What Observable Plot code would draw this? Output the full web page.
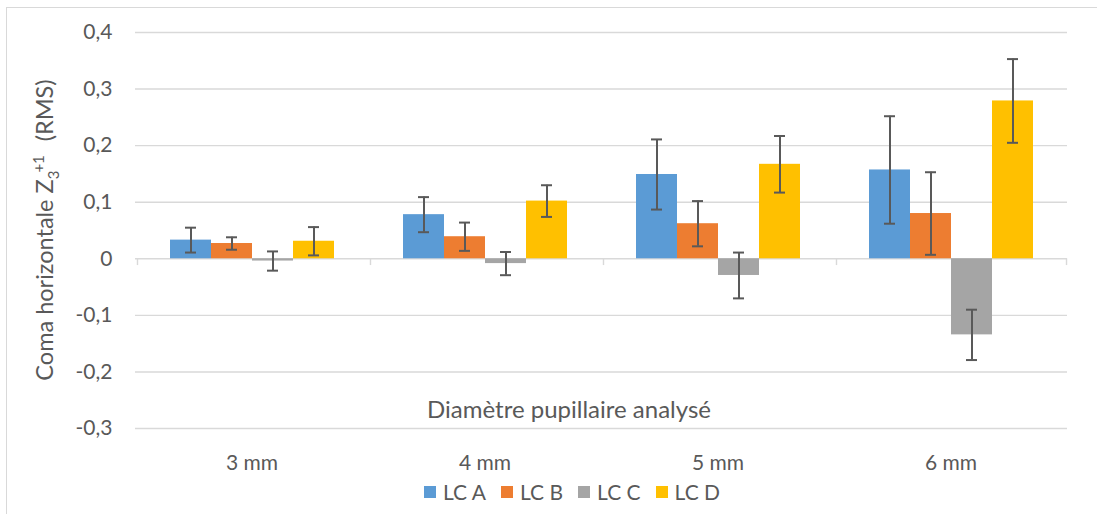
<!DOCTYPE html>
<html>
<head>
<meta charset="utf-8">
<script src="https://cdn.jsdelivr.net/npm/d3@7"></script>
<script src="https://cdn.jsdelivr.net/npm/@observablehq/plot@0.6"></script>
<style>
  html, body { margin: 0; padding: 0; background: #fff; }
  #wrap { position: relative; width: 1097px; height: 514px; overflow: hidden; font-family: Lato, sans-serif; }
  #border { position: absolute; left: 6px; top: 7px; width: 1200px; height: 600px; border-top: 1.5px solid #d9d9d9; border-left: 1.5px solid #d9d9d9; }
  #chart { position: absolute; left: 0; top: 0; }
  #legend { position: absolute; left: 424px; top: 479px; display: flex; gap: 15px; font-size: 21px; color: #595959; }
  #legend .item { display: flex; align-items: center; }
  #legend .sw { width: 12px; height: 12px; margin-right: 7px; }
</style>
</head>
<body>
<div id="wrap">
  <div id="border"></div>
  <div id="chart"></div>
  <div id="legend"></div>
</div>
<script>
// Data
const categories = ["3 mm", "4 mm", "5 mm", "6 mm"];
const series = ["LC A", "LC B", "LC C", "LC D"];
const colors = ["#5b9bd5", "#ed7d31", "#a5a5a5", "#ffc000"];
const lcA = [0.033, 0.078, 0.149, 0.157];
const lcB = [0.027, 0.039, 0.062, 0.080];
const lcC = [-0.004, -0.0085, -0.0295, -0.1345];
const lcD = [0.031, 0.102, 0.167, 0.279];
const errA = [0.022, 0.031, 0.062, 0.095];
const errB = [0.011, 0.025, 0.040, 0.073];
const errC = [0.017, 0.0205, 0.0405, 0.0445];
const errD = [0.025, 0.028, 0.050, 0.074];
const yTicks = [-0.3, -0.2, -0.1, 0, 0.1, 0.2, 0.3, 0.4];
const xTitle = "Diamètre pupillaire analysé";

const values = [lcA, lcB, lcC, lcD];
const errors = [errA, errB, errC, errD];
const table = [];
series.forEach((s, si) => categories.forEach((c, ci) => {
  const v = values[si][ci], e = errors[si][ci];
  table.push({cat: c, series: s, value: v, lo: v - e, hi: v + e});
}));

const W = 1097, H = 478, mL = 135, mR = 30, mT = 32, mB = 50;
const padOuter = 0.774;
const facetW = (W - mL - mR) / categories.length;
const bw = facetW / (series.length + 2 * padOuter);
const edgeDx = bw / 2 + padOuter * bw;
const fmt = d => d === 0 ? "0" : String(+d.toFixed(1)).replace(".", ",");
const grid = "#d9d9d9";
const ink = "#595959";

const chart = Plot.plot({
  width: W, height: H,
  marginTop: mT, marginBottom: mB, marginLeft: mL, marginRight: mR,
  style: {fontFamily: "Lato, sans-serif", fontSize: "21px", color: ink, background: "transparent"},
  fx: {domain: categories, padding: 0, label: null, axis: "bottom", tickSize: 0, tickPadding: 27},
  x: {domain: series, paddingInner: 0, paddingOuter: padOuter, axis: null},
  y: {domain: [-0.3, 0.4], ticks: yTicks, tickSize: 0, tickPadding: 23, tickFormat: fmt, label: null},
  color: {domain: series, range: colors},
  marks: [
    Plot.ruleY(yTicks, {stroke: grid, strokeWidth: 1.4}),
    Plot.barY(table, {fx: "cat", x: "series", y: "value", fill: "series"}),
    Plot.ruleX(categories, {fx: d => d, x: () => series[0], y1: 0, y2: -0.012, dx: -edgeDx, stroke: grid, strokeWidth: 1.4}),
    Plot.ruleX(categories.slice(-1), {fx: d => d, x: () => series[series.length - 1], y1: 0, y2: -0.012, dx: edgeDx, stroke: grid, strokeWidth: 1.4}),
    Plot.ruleX(table, {fx: "cat", x: "series", y1: "lo", y2: "hi", stroke: ink, strokeWidth: 2}),
    Plot.tickY(table, {fx: "cat", x: "series", y: "lo", stroke: ink, strokeWidth: 2, insetLeft: (bw - 12) / 2, insetRight: (bw - 12) / 2}),
    Plot.tickY(table, {fx: "cat", x: "series", y: "hi", stroke: ink, strokeWidth: 2, insetLeft: (bw - 12) / 2, insetRight: (bw - 12) / 2})
  ]
});
document.getElementById("chart").appendChild(chart);

// axis titles
const svg = d3.select(chart);
svg.append("text")
  .attr("x", 569).attr("y", 418)
  .attr("text-anchor", "middle")
  .attr("fill", ink).style("font-size", "24px")
  .text(xTitle);

const yl = svg.append("text")
  .attr("transform", "translate(53,230) rotate(-90)")
  .attr("text-anchor", "middle")
  .attr("fill", ink).style("font-size", "23.5px");
yl.append("tspan").text("Coma horizontale Z");
yl.append("tspan").attr("dy", 6).style("font-size", "15px").text("3");
yl.append("tspan").attr("dy", -15).attr("dx", -2).style("font-size", "15px").text("+1");
yl.append("tspan").attr("dy", 9).attr("dx", 14).text("(RMS)");

// legend
const lg = d3.select("#legend");
series.forEach((s, i) => {
  const it = lg.append("div").attr("class", "item");
  it.append("div").attr("class", "sw").style("background", colors[i]);
  it.append("span").text(s);
});
</script>
</body>
</html>
